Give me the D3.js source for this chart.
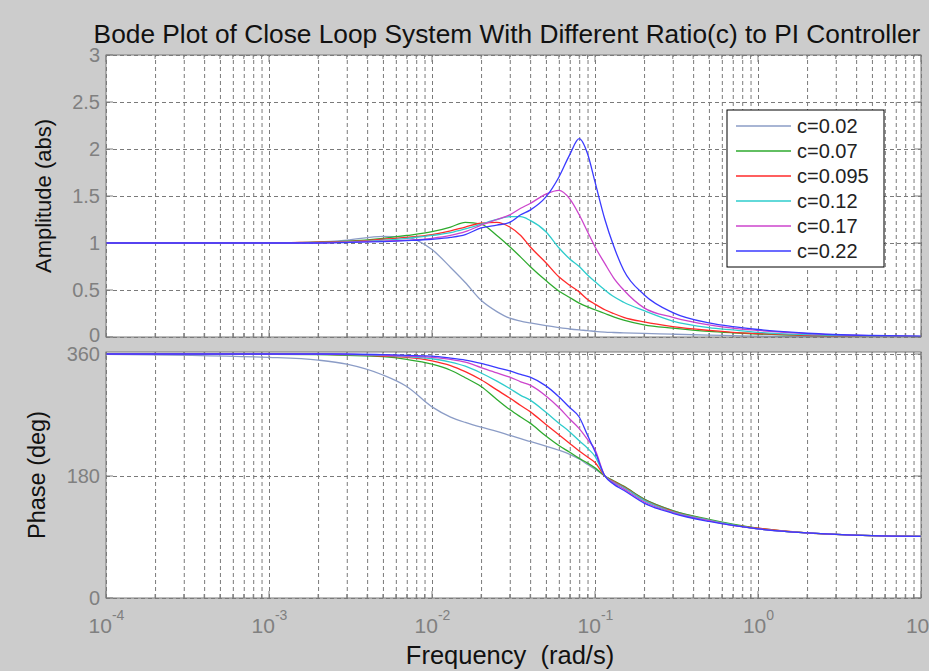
<!DOCTYPE html>
<html><head><meta charset="utf-8">
<script src="https://cdn.jsdelivr.net/npm/d3@7"></script>
<style>body{margin:0;background:#cccccc;} svg{display:block;}</style>
</head><body>
<svg id="chart" width="929" height="671"></svg>
<script>
// ---------- data ----------
const freqs = [1e-4, 1e-3, 2e-3, 3e-3, 5e-3, 7e-3, 0.01, 0.013, 0.016, 0.02, 0.025, 0.03, 0.035, 0.04, 0.05, 0.06, 0.07, 0.08, 0.09, 0.1, 0.115, 0.13, 0.15, 0.2, 0.3, 0.5, 0.7, 1, 2, 5, 10];
const seriesNames = ["c=0.02", "c=0.07", "c=0.095", "c=0.12", "c=0.17", "c=0.22"];
const seriesColors = ["#8b9cc6", "#2eaa2e", "#ff2a2a", "#2ecccc", "#cc44cc", "#3a3aff"];

const amp002  = [1.0, 1.0, 1.01, 1.03, 1.07, 1.06, 0.93, 0.74, 0.58, 0.39, 0.27, 0.2, 0.17, 0.15, 0.12, 0.1, 0.085, 0.075, 0.068, 0.06, 0.052, 0.048, 0.044, 0.038, 0.03, 0.02, 0.015, 0.01, 0.005, 0.002, 0.001];
const amp007  = [1.0, 1.0, 1.01, 1.02, 1.05, 1.08, 1.12, 1.17, 1.22, 1.2, 1.08, 0.96, 0.85, 0.75, 0.6, 0.49, 0.42, 0.36, 0.32, 0.29, 0.25, 0.215, 0.18, 0.13, 0.095, 0.06, 0.045, 0.032, 0.016, 0.006, 0.003];
const amp0095 = [1.0, 1.0, 1.01, 1.015, 1.04, 1.06, 1.09, 1.13, 1.17, 1.21, 1.22, 1.17, 1.08, 0.96, 0.79, 0.64, 0.55, 0.48, 0.4, 0.35, 0.29, 0.25, 0.21, 0.16, 0.11, 0.07, 0.05, 0.037, 0.018, 0.007, 0.003];
const amp012  = [1.0, 1.0, 1.005, 1.01, 1.03, 1.05, 1.08, 1.11, 1.15, 1.2, 1.25, 1.28, 1.28, 1.24, 1.12, 0.95, 0.83, 0.75, 0.66, 0.59, 0.5, 0.43, 0.37, 0.28, 0.17, 0.1, 0.075, 0.05, 0.025, 0.01, 0.005];
const amp017  = [1.0, 1.0, 1.0, 1.01, 1.02, 1.03, 1.05, 1.08, 1.12, 1.19, 1.25, 1.3, 1.37, 1.42, 1.52, 1.56, 1.47, 1.3, 1.12, 0.96, 0.78, 0.63, 0.5, 0.31, 0.21, 0.13, 0.095, 0.07, 0.035, 0.014, 0.007];
const amp022  = [1.0, 1.0, 1.0, 1.005, 1.015, 1.025, 1.04, 1.06, 1.09, 1.16, 1.19, 1.22, 1.3, 1.35, 1.49, 1.7, 1.94, 2.11, 1.95, 1.65, 1.25, 0.97, 0.71, 0.45, 0.26, 0.15, 0.11, 0.08, 0.04, 0.016, 0.008];

const phase002  = [359.5, 355, 351, 345, 329, 312, 282, 267, 259, 252, 246, 240, 235, 231, 224, 218, 212, 205, 197, 190, 180, 172, 164, 146, 129, 115, 108, 102, 96, 92, 91];
const phase007  = [360, 359.5, 359, 358, 356, 352, 345, 336, 325, 312, 293, 278, 267, 258, 239, 225, 215, 206, 199, 192, 180, 173, 165, 146, 129, 116, 109, 103, 96, 92, 91];
const phase0095 = [360, 360, 359.5, 359, 357, 355, 350, 343, 334, 322, 307, 295, 284, 275, 256, 241, 228, 217, 208, 200, 180, 172, 164, 145, 128, 115, 108, 103, 96, 92, 91];
const phase012  = [360, 360, 360, 359, 358, 356, 353, 348, 342, 332, 320, 309, 299, 292, 274, 258, 245, 232, 221, 209, 180, 171, 163, 144, 127, 115, 108, 102, 96, 92, 91];
const phase017  = [360, 360, 360, 359.5, 358.5, 357, 355, 352, 348, 340, 332, 326, 319, 314, 298, 281, 264, 250, 234, 219, 180, 170, 161, 142, 126, 114, 107, 102, 96, 92, 91];
const phase022  = [360, 360, 360, 360, 359, 358, 357, 354, 351, 346, 340, 335, 330, 326, 313, 297, 281, 267, 240, 216, 180, 168, 159, 140, 125, 113, 107, 102, 96, 92, 91];

const ampSeries = [amp002, amp007, amp0095, amp012, amp017, amp022];
const phaseSeries = [phase002, phase007, phase0095, phase012, phase017, phase022];

const ampTicks = [0, 0.5, 1, 1.5, 2, 2.5, 3];
const ampTickLabels = ["0", "0.5", "1", "1.5", "2", "2.5", "3"];
const phaseTicks = [0, 180, 360];
const phaseTickLabels = ["0", "180", "360"];
const decadeExps = [-4, -3, -2, -1, 0, 1];

const titleText = "Bode Plot of Close Loop System With Different Ratio(c) to PI Controller";
const ampLabel = "Amplitude (abs)";
const phaseLabel = "Phase (deg)";
const freqLabel = "Frequency  (rad/s)";

// ---------- drawing ----------
const W = 929, H = 671;
const svg = d3.select("#chart");
svg.append("rect").attr("width", W).attr("height", H).attr("fill", "#cccccc");

const L = 106, R = 921;
const x = d3.scaleLog().domain([1e-4, 10]).range([L, R]);
const majorX = decadeExps.map(e => Math.pow(10, e));
const minorX = [];
decadeExps.slice(0, -1).forEach(e => { for (let k = 2; k <= 9; k++) minorX.push(k * Math.pow(10, e)); });
const allX = majorX.concat(minorX);

const yA = d3.scaleLinear().domain([0, 3]).range([337, 55]);
const yP = d3.scaleLinear().domain([0, 360]).range([598, 354]);

const panels = [
  {id: "amp", y: yA, top: 55, bottom: 337, ticks: ampTicks, labels: ampTickLabels, series: ampSeries},
  {id: "phase", y: yP, top: 352, bottom: 598, ticks: phaseTicks, labels: phaseTickLabels, series: phaseSeries}
];

const FONT = "'Liberation Sans', Arial, sans-serif";
const gridColor = "#7a7a7a";

panels.forEach((p, pi) => {
  const g = svg.append("g");
  g.append("rect").attr("x", L).attr("y", p.top).attr("width", R - L).attr("height", p.bottom - p.top).attr("fill", "#ffffff");

  // vertical grid
  const gx = g.append("g").attr("transform", `translate(0,${p.bottom})`)
    .call(d3.axisBottom(x).tickValues(allX).tickSize(-(p.bottom - p.top)).tickFormat(() => ""));
  gx.select(".domain").remove();
  gx.selectAll("line").attr("stroke", gridColor).attr("stroke-dasharray", "4,3").attr("stroke-width", 1);

  // horizontal grid
  const gy = g.append("g").attr("transform", `translate(${L},0)`)
    .call(d3.axisLeft(p.y).tickValues(p.ticks).tickSize(-(R - L)).tickFormat(() => ""));
  gy.select(".domain").remove();
  gy.selectAll("line").attr("stroke", gridColor).attr("stroke-dasharray", "4,3").attr("stroke-width", 1);

  // inner tick marks (bottom/top)
  [p.bottom, p.top].forEach((yy, j) => {
    const sgn = j === 0 ? -1 : 1;
    g.append("g").selectAll("line").data(allX).join("line")
      .attr("x1", d => x(d)).attr("x2", d => x(d))
      .attr("y1", yy).attr("y2", d => yy + sgn * (majorX.includes(d) ? 7 : 4))
      .attr("stroke", "#808080").attr("stroke-width", 1);
  });
  [L, R].forEach((xx, j) => {
    const sgn = j === 0 ? 1 : -1;
    g.append("g").selectAll("line").data(p.ticks).join("line")
      .attr("x1", xx).attr("x2", xx + sgn * 7)
      .attr("y1", d => p.y(d)).attr("y2", d => p.y(d))
      .attr("stroke", "#808080").attr("stroke-width", 1);
  });

  // clip + lines
  const clipId = "clip-" + p.id;
  svg.append("clipPath").attr("id", clipId).append("rect")
    .attr("x", L).attr("y", p.top).attr("width", R - L).attr("height", p.bottom - p.top);
  const line = d3.line().x((d, i) => x(freqs[i])).y(d => p.y(d)).curve(d3.curveMonotoneX);
  const lg = g.append("g").attr("clip-path", `url(#${clipId})`);
  p.series.forEach((s, si) => {
    lg.append("path").attr("d", line(s)).attr("fill", "none")
      .attr("stroke", seriesColors[si]).attr("stroke-width", 1.3);
  });

  // box
  g.append("rect").attr("x", L).attr("y", p.top).attr("width", R - L).attr("height", p.bottom - p.top)
    .attr("fill", "none").attr("stroke", "#7a7a7a").attr("stroke-width", 1);

  // y tick labels
  const yl = g.append("g").attr("transform", `translate(${L},0)`)
    .call(d3.axisLeft(p.y).tickValues(p.ticks).tickSize(0).tickPadding(6).tickFormat((d, i) => p.labels[i]));
  yl.select(".domain").remove();
  yl.selectAll("text").attr("font-family", FONT).attr("font-size", 20).attr("fill", "#808080");
  if (pi === 0) yl.selectAll("text").filter(d => d === 0).attr("dy", "0.2em");
});

// x tick labels on lower panel
const xl = svg.append("g").attr("transform", `translate(0,598)`)
  .call(d3.axisBottom(x).tickValues(majorX).tickSize(0).tickFormat(() => ""));
xl.select(".domain").remove();
xl.selectAll("text").each(function(d, i) {
  const t = d3.select(this);
  t.attr("y", 35).attr("dy", 0).attr("font-family", FONT).attr("fill", "#808080").attr("text-anchor", "middle");
  t.append("tspan").attr("font-size", 21).text("10");
  const e = decadeExps[i];
  t.append("tspan").attr("font-size", 14).attr("dy", -13).text(e === 1 ? "1" : String(e));
});

// title & axis labels
svg.append("text").attr("x", 507).attr("y", 43).attr("text-anchor", "middle")
  .attr("font-family", FONT).attr("font-size", 26.3).attr("fill", "#111").text(titleText);
svg.append("text").attr("transform", "translate(51,196) rotate(-90)").attr("text-anchor", "middle")
  .attr("font-family", FONT).attr("font-size", 22).attr("fill", "#111").text(ampLabel);
svg.append("text").attr("transform", "translate(45,475) rotate(-90)").attr("text-anchor", "middle")
  .attr("font-family", FONT).attr("font-size", 23.5).attr("fill", "#111").text(phaseLabel);
svg.append("text").attr("x", 510).attr("y", 664).attr("text-anchor", "middle").attr("xml:space", "preserve")
  .style("white-space", "pre")
  .attr("font-family", FONT).attr("font-size", 25.5).attr("fill", "#111").text(freqLabel);

// legend
const leg = svg.append("g");
leg.append("rect").attr("x", 727).attr("y", 110).attr("width", 157).attr("height", 157)
  .attr("fill", "#ffffff").attr("stroke", "#000").attr("stroke-width", 1);
const items = leg.selectAll("g.item").data(seriesNames).join("g").attr("class", "item")
  .attr("transform", (d, i) => `translate(0,${126 + 25 * i})`);
items.append("line").attr("x1", 736).attr("x2", 791).attr("y1", 0).attr("y2", 0)
  .attr("stroke", (d, i) => seriesColors[i]).attr("stroke-width", 1.3);
items.append("text").attr("x", 797).attr("y", 0).attr("dy", "0.36em")
  .attr("font-family", FONT).attr("font-size", 20).attr("fill", "#222").text(d => d);
</script>
</body></html>
